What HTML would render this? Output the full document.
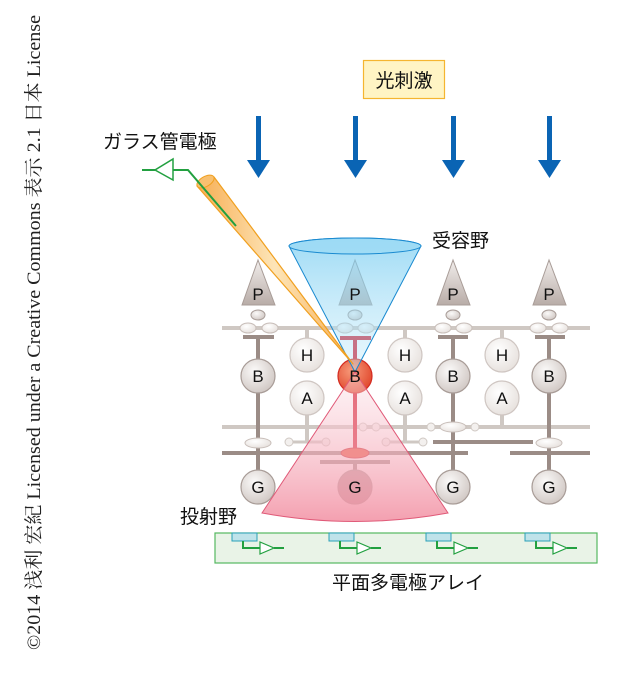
<!DOCTYPE html>
<html><head><meta charset="utf-8"><style>
html,body{margin:0;padding:0;background:#fff;width:639px;height:675px;overflow:hidden}
svg text{font-family:"Liberation Sans","Noto Sans CJK JP",sans-serif}
</style></head><body>
<svg width="639" height="675" viewBox="0 0 639 675" xmlns="http://www.w3.org/2000/svg">
<defs>
<radialGradient id="gc" cx="40%" cy="35%" r="70%"><stop offset="0" stop-color="#fbfaf9"/><stop offset="1" stop-color="#cfc6c2"/></radialGradient>
<radialGradient id="lc" cx="40%" cy="35%" r="70%"><stop offset="0" stop-color="#ffffff"/><stop offset="1" stop-color="#e6e0dc"/></radialGradient>
<radialGradient id="rc" cx="40%" cy="35%" r="70%"><stop offset="0" stop-color="#f79a7a"/><stop offset="1" stop-color="#e0452a"/></radialGradient>
<linearGradient id="tri" x1="0" y1="0" x2="0" y2="1"><stop offset="0" stop-color="#f2eeec"/><stop offset="1" stop-color="#b8aca7"/></linearGradient>
<linearGradient id="blue" x1="0" y1="0" x2="0" y2="1"><stop offset="0" stop-color="#6cc8f0"/><stop offset="1" stop-color="#c8ecfa" stop-opacity="0.6"/></linearGradient>
<linearGradient id="pink" x1="0" y1="0" x2="0" y2="1"><stop offset="0" stop-color="#fbe3e8" stop-opacity="0.4"/><stop offset="1" stop-color="#f28fa2" stop-opacity="0.85"/></linearGradient>
<linearGradient id="pip" x1="0" y1="0" x2="1" y2="0"><stop offset="0" stop-color="#f6a540"/><stop offset="0.5" stop-color="#fde2b0"/><stop offset="1" stop-color="#f6a540"/></linearGradient>
</defs>

<text transform="translate(40,650) rotate(-90)" font-size="19" textLength="635" lengthAdjust="spacingAndGlyphs" style="font-family:'Liberation Serif','Noto Serif CJK SC',serif" fill="#222">©2014 浅利 宏紀 Licensed under a Creative Commons 表示 2.1 日本 License</text>

<rect x="363.5" y="60.5" width="81" height="38" fill="#fff4c4" stroke="#f5b530" stroke-width="1.2"/>
<text x="404" y="87" font-size="19" text-anchor="middle" fill="#111">光刺激</text>

<g fill="#0a64b4">
<rect x="256" y="116" width="5" height="44"/><polygon points="247,160 270,160 258.5,178"/>
<rect x="353" y="116" width="5" height="44"/><polygon points="344,160 367,160 355.5,178"/>
<rect x="451" y="116" width="5" height="44"/><polygon points="442,160 465,160 453.5,178"/>
<rect x="547" y="116" width="5" height="44"/><polygon points="538,160 561,160 549.5,178"/>
</g>

<text x="103" y="148" font-size="19" fill="#111">ガラス管電極</text>
<text x="432" y="247" font-size="19" fill="#111">受容野</text>
<text x="180" y="523" font-size="19" fill="#111">投射野</text>
<text x="408" y="589" font-size="19" text-anchor="middle" fill="#111">平面多電極アレイ</text>

<g stroke-linecap="butt">
<line x1="222" y1="328" x2="590" y2="328" stroke="#cfc8c3" stroke-width="4"/>
<line x1="222" y1="427" x2="590" y2="427" stroke="#cfc8c3" stroke-width="4"/>
<line x1="290" y1="442" x2="330" y2="442" stroke="#cfc8c3" stroke-width="3"/>
<line x1="390" y1="442" x2="425" y2="442" stroke="#cfc8c3" stroke-width="3"/>
<g stroke="#cfc8c3" stroke-width="4">
<line x1="307" y1="328" x2="307" y2="340"/><line x1="307" y1="414" x2="307" y2="442"/>
<line x1="405" y1="328" x2="405" y2="340"/><line x1="405" y1="414" x2="405" y2="442"/>
<line x1="502" y1="328" x2="502" y2="340"/><line x1="502" y1="414" x2="502" y2="427"/>
</g>
<g stroke="#9b8c86" stroke-width="4">
<line x1="222" y1="453" x2="468" y2="453"/>
<line x1="510" y1="453" x2="590" y2="453"/>
<line x1="433" y1="442" x2="533" y2="442"/>
<line x1="243" y1="337" x2="274" y2="337"/>
<line x1="438" y1="337" x2="468" y2="337"/>
<line x1="535" y1="337" x2="565" y2="337"/>
<line x1="320" y1="462" x2="390" y2="462"/>
<line x1="258" y1="337" x2="258" y2="470"/>
<line x1="453" y1="337" x2="453" y2="470"/>
<line x1="549" y1="337" x2="549" y2="470"/>
<line x1="355" y1="462" x2="355" y2="470"/>
</g>
</g>
<g fill="#f3f0ee" stroke="#cfc8c3" stroke-width="1">
<circle cx="363" cy="427" r="4"/><circle cx="376" cy="427" r="4"/><circle cx="431" cy="427" r="4"/><circle cx="475" cy="427" r="4"/>
<circle cx="289" cy="442" r="4"/><circle cx="326" cy="442" r="4"/><circle cx="386" cy="442" r="4"/><circle cx="423" cy="442" r="4"/>
</g>
<g fill="url(#lc)" stroke="#c8beb9" stroke-width="1">
<ellipse cx="248" cy="328" rx="8" ry="5"/><ellipse cx="270" cy="328" rx="8" ry="5"/>
<ellipse cx="345" cy="328" rx="8" ry="5"/><ellipse cx="366" cy="328" rx="8" ry="5"/>
<ellipse cx="443" cy="328" rx="8" ry="5"/><ellipse cx="464" cy="328" rx="8" ry="5"/>
<ellipse cx="538" cy="328" rx="8" ry="5"/><ellipse cx="560" cy="328" rx="8" ry="5"/>
<ellipse cx="258" cy="443" rx="13" ry="5"/><ellipse cx="453" cy="427" rx="13" ry="5"/><ellipse cx="549" cy="443" rx="13" ry="5"/>
</g>
<g stroke="#a89c97" stroke-width="1">
<g fill="url(#tri)">
<polygon points="258,260 242,305 275,305"/><polygon points="355,260 339,305 372,305"/>
<polygon points="453,260 437,305 470,305"/><polygon points="549,260 533,305 566,305"/>
</g>
<g fill="url(#gc)">
<ellipse cx="258" cy="315" rx="7" ry="5"/><ellipse cx="355" cy="315" rx="7" ry="5"/>
<ellipse cx="453" cy="315" rx="7" ry="5"/><ellipse cx="549" cy="315" rx="7" ry="5"/>
</g>
</g>
<g fill="url(#lc)" stroke="#cfc6c2" stroke-width="1.2">
<circle cx="307" cy="355" r="17"/><circle cx="405" cy="355" r="17"/><circle cx="502" cy="355" r="17"/>
<circle cx="307" cy="398" r="17"/><circle cx="405" cy="398" r="17"/><circle cx="502" cy="398" r="17"/>
</g>
<g fill="url(#gc)" stroke="#a89c97" stroke-width="1.2">
<circle cx="258" cy="376" r="17"/><circle cx="453" cy="376" r="17"/><circle cx="549" cy="376" r="17"/>
<circle cx="258" cy="487" r="17"/><circle cx="355" cy="487" r="17" fill="#b89c9c"/><circle cx="453" cy="487" r="17"/><circle cx="549" cy="487" r="17"/>
</g>
<g stroke="#d4172a" stroke-width="4">
<line x1="340" y1="338" x2="371" y2="338"/><line x1="355" y1="338" x2="355" y2="453"/>
</g>
<ellipse cx="355" cy="453" rx="14" ry="5" fill="#e84a30" stroke="#c81c20"/>
<circle cx="355" cy="376" r="17" fill="url(#rc)" stroke="#d42a20" stroke-width="1.2"/>

<path d="M289,246 L355,372 L421,246 A66,8 0 0 0 289,246Z" fill="url(#blue)" fill-opacity="0.65" stroke="#1a8ad0" stroke-width="1"/>
<ellipse cx="355" cy="246" rx="66" ry="8" fill="#9bdaf5" fill-opacity="0.7" stroke="#1a8ad0" stroke-width="1"/>
<path d="M355,372 L262,513 Q355,530 448,513 Z" fill="url(#pink)" stroke="#e05a78" stroke-width="1"/>

<g font-size="17" text-anchor="middle" fill="#111">
<text x="258" y="300">P</text><text x="355" y="300">P</text><text x="453" y="300">P</text><text x="549" y="300">P</text>
<text x="307" y="361">H</text><text x="405" y="361">H</text><text x="502" y="361">H</text>
<text x="307" y="404">A</text><text x="405" y="404">A</text><text x="502" y="404">A</text>
<text x="258" y="382">B</text><text x="355" y="382">B</text><text x="453" y="382">B</text><text x="549" y="382">B</text>
<text x="258" y="493">G</text><text x="355" y="493">G</text><text x="453" y="493">G</text><text x="549" y="493">G</text>
</g>

<polygon points="197,186 214,177 353,364" fill="url(#pip)" fill-opacity="0.9" stroke="#f0a020" stroke-width="1.2" stroke-linejoin="round"/>
<ellipse cx="205.5" cy="181.5" rx="9.5" ry="5" transform="rotate(-30 205.5 181.5)" fill="#f8c070" stroke="#f0a020"/>
<polyline points="236,226 188,170 173,170" fill="none" stroke="#22a040" stroke-width="2"/>
<polygon points="173,159 173,180 155,170" fill="#fff" stroke="#22a040" stroke-width="1.5"/>
<line x1="142" y1="170" x2="155" y2="170" stroke="#22a040" stroke-width="2"/>

<rect x="215" y="533" width="382" height="30" fill="#e9f3e7" stroke="#55b860" stroke-width="1.2"/>
<g>
<g transform="translate(232,533)"><rect width="25" height="8" fill="#bfe3ea" stroke="#2aa0b8"/><polyline points="11,8 11,15 28,15" fill="none" stroke="#22a040" stroke-width="2"/><polygon points="28,9 28,21 42,15" fill="#fff" stroke="#22a040" stroke-width="1.2"/><line x1="42" y1="15" x2="52" y2="15" stroke="#22a040" stroke-width="2"/></g>
<g transform="translate(329,533)"><rect width="25" height="8" fill="#bfe3ea" stroke="#2aa0b8"/><polyline points="11,8 11,15 28,15" fill="none" stroke="#22a040" stroke-width="2"/><polygon points="28,9 28,21 42,15" fill="#fff" stroke="#22a040" stroke-width="1.2"/><line x1="42" y1="15" x2="52" y2="15" stroke="#22a040" stroke-width="2"/></g>
<g transform="translate(426,533)"><rect width="25" height="8" fill="#bfe3ea" stroke="#2aa0b8"/><polyline points="11,8 11,15 28,15" fill="none" stroke="#22a040" stroke-width="2"/><polygon points="28,9 28,21 42,15" fill="#fff" stroke="#22a040" stroke-width="1.2"/><line x1="42" y1="15" x2="52" y2="15" stroke="#22a040" stroke-width="2"/></g>
<g transform="translate(525,533)"><rect width="25" height="8" fill="#bfe3ea" stroke="#2aa0b8"/><polyline points="11,8 11,15 28,15" fill="none" stroke="#22a040" stroke-width="2"/><polygon points="28,9 28,21 42,15" fill="#fff" stroke="#22a040" stroke-width="1.2"/><line x1="42" y1="15" x2="52" y2="15" stroke="#22a040" stroke-width="2"/></g>
</g>
</svg>
</body></html>
